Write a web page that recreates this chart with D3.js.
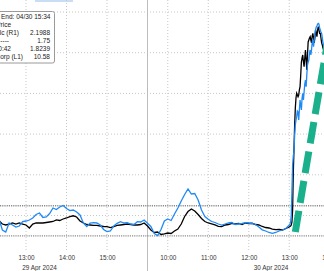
<!DOCTYPE html>
<html>
  <head>
    <meta charset=utf-8>
    <title>Intraday spike</title>
    <style>
      body{ margin:0; background:#fff; }
      svg{ display:block; font-family:"Liberation Sans", Arial, sans-serif; }
      .grid line{ stroke:#c8c8c8; stroke-width:1; stroke-dasharray:1,2; }
      .ref{ stroke:#8c8c8c; stroke-width:1.4; stroke-dasharray:1.2,1; }
      .axis text{ fill:#333; font-size:6.4px; }
      .legend text{ fill:#222; font-size:6.5px; }
    </style>
  </head>
  <body>
    <script src="https://d3js.org/d3.v7.min.js"></script>
    <script>
      var width = 324, height = 271,
          plotBottom = 250;

      // 29 Apr: 12:20 -> 16:00 every 5 min
      var blackDay1 = [1.7872,1.7791,1.7767,1.7791,1.7816,1.7791,1.7816,1.7791,1.7767,1.7693,
                       1.7791,1.7816,1.7816,1.7816,1.7828,1.7840,1.7853,1.7890,1.7877,1.7914,
                       1.7939,1.7971,1.7993,1.7963,1.7865,1.7816,1.7779,1.7767,1.7755,1.7755,
                       1.7742,1.7730,1.7725,1.7705,1.7725,1.7755,1.7767,1.7779,1.7791,1.7779,
                       1.7767,1.7767,1.7779,1.7816,1.7742];
      var blueDay1 = [9.479,9.413,9.401,9.455,9.443,9.431,9.437,9.463,9.467,9.473,
                      9.485,9.506,9.515,9.488,9.491,9.512,9.545,9.536,9.551,9.560,
                      9.542,9.529,9.533,9.521,9.503,9.455,9.434,9.455,9.457,9.455,
                      9.443,9.416,9.403,9.407,9.437,9.453,9.463,9.455,9.457,9.449,
                      9.446,9.463,9.461,9.473,9.453];
      // 30 Apr: 09:30 -> 12:55 every 5 min
      var blackDay2 = [1.7742,1.7644,1.7583,1.7595,1.7533,1.7546,1.7570,1.7558,1.7619,1.7668,
                       1.7791,1.7976,1.8098,1.8160,1.8111,1.8025,1.7926,1.7853,1.7816,1.7796,
                       1.7767,1.7735,1.7725,1.7767,1.7779,1.7804,1.7791,1.7804,1.7779,1.7816,
                       1.7804,1.7809,1.7779,1.7767,1.7730,1.7705,1.7693,1.7668,1.7651,1.7656,
                       1.7644,1.7681];
      var blueDay2 = [9.453,9.434,9.392,9.380,9.416,9.467,9.479,9.470,9.509,9.545,
                      9.587,9.626,9.659,9.629,9.632,9.593,9.533,9.494,9.477,9.464,
                      9.458,9.449,9.443,9.449,9.455,9.458,9.446,9.449,9.452,9.457,
                      9.455,9.452,9.446,9.431,9.414,9.407,9.398,9.393,9.398,9.407,
                      9.413,9.422];
      // 30 Apr: 13:00 -> 13:52 every minute
      var blackSurge = [1.7718,1.7730,1.7742,1.7767,1.7840,1.8135,1.9069,1.9610,2.0224,2.0641,
                        2.0887,2.1003,2.0961,2.0919,2.0961,2.1084,2.1165,2.1452,2.1772,2.1870,
                        2.1944,2.1772,2.1656,2.1870,2.2067,2.1821,2.1575,2.1944,2.2263,2.2312,
                        2.2361,2.2393,2.2312,2.2239,2.2411,2.2477,2.2361,2.2239,2.2361,2.2558,
                        2.2484,2.2393,2.2558,2.2639,2.2558,2.2477,2.2477,2.2361,2.2239,2.2189,
                        2.2116,2.2067,2.2017];
      var blueSurge = [9.443,9.449,9.461,9.503,9.653,9.803,9.857,9.883,9.983,10.043,
                       10.073,10.093,10.127,10.121,10.073,10.133,10.193,10.163,10.133,10.205,
                       10.233,10.193,10.241,10.289,10.313,10.273,10.343,10.403,10.421,10.433,
                       10.475,10.493,10.463,10.493,10.541,10.553,10.513,10.553,10.589,10.613,
                       10.631,10.637,10.649,10.653,10.649,10.625,10.613,10.601,10.593,10.565,
                       10.535,10.523,10.505];

      var tickTimes = ["2024-04-29 13:00","2024-04-29 14:00","2024-04-29 15:00",
                       "2024-04-30 10:00","2024-04-30 11:00","2024-04-30 12:00",
                       "2024-04-30 13:00","2024-04-30 14:00"];
      var dateLabels = [{t:"2024-04-29 13:20", label:"29 Apr 2024"},
                        {t:"2024-04-30 12:33", label:"30 Apr 2024"}];
      var refLevels = [1.8239, 1.75];
      var legendLabels = ["Period End: 04/30 15:34", "Last Price", "Mid Calc  (R1)",
                          "Line ----", "High on 04/30 10:42", "Corp  (L1)"];
      var legendValues = ["", "", "2.1988", "1.75", "1.8239", "10.58"];
      var legendEnds = [50.5, 11, 19, 9, 11, 23];

      var parse = d3.timeParse("%Y-%m-%d %H:%M");

      function times(startStr, n, step){
        var s = parse(startStr);
        return d3.range(n).map(function(i){ return d3.timeMinute.offset(s, i*step); });
      }
      var t1 = times("2024-04-29 12:20", blackDay1.length, 5),
          t2 = times("2024-04-30 09:30", blackDay2.length, 5),
          t3 = times("2024-04-30 13:00", blackSurge.length, 1);
      var allTimes = t1.concat(t2, t3);
      var black = blackDay1.concat(blackDay2, blackSurge).map(function(v, i){ return {t:allTimes[i], v:v}; });
      var blue = blueDay1.concat(blueDay2, blueSurge).map(function(v, i){ return {t:allTimes[i], v:v}; });

      // two sessions with the overnight gap removed
      var x = d3.scaleTime()
        .domain([parse("2024-04-29 12:20"), parse("2024-04-29 16:00"),
                 parse("2024-04-30 09:30"), parse("2024-04-30 15:34")])
        .range([-1, 147.5, 147.5, 393.2]);
      var yR = d3.scaleLinear().domain([1.8, 2.3]).range([215.5, 12]);
      var yL = d3.scaleLinear().domain([9.5, 10.5]).range([215.5, 48.83]);

      var svg = d3.select("body").append("svg")
        .attr("width", width)
        .attr("height", height);

      // light strip at top
      svg.append("rect").attr("x", 35).attr("y", 0).attr("width", 38).attr("height", 2)
        .style("fill", "#c9def5");

      var grid = svg.append("g").attr("class", "grid");
      grid.selectAll("line.h").data(yR.ticks(6).filter(function(d){ return yR(d) < plotBottom; }))
        .enter().append("line")
          .attr("class", "h")
          .attr("x1", 0).attr("x2", width)
          .attr("y1", function(d){ return yR(d); })
          .attr("y2", function(d){ return yR(d); });
      grid.selectAll("line.v").data(tickTimes.map(parse))
        .enter().append("line")
          .attr("class", "v")
          .attr("x1", function(d){ return x(d); })
          .attr("x2", function(d){ return x(d); })
          .attr("y1", 0).attr("y2", plotBottom);

      // day separator
      svg.append("line")
        .attr("x1", x(parse("2024-04-29 16:00"))).attr("x2", x(parse("2024-04-29 16:00")))
        .attr("y1", 0).attr("y2", height)
        .style("stroke", "#bcbcbc").style("stroke-width", 1);

      svg.selectAll("line.ref").data(refLevels).enter().append("line")
        .attr("class", "ref")
        .attr("x1", 0).attr("x2", width)
        .attr("y1", function(d){ return yR(d); })
        .attr("y2", function(d){ return yR(d); });

      var lineR = d3.line().x(function(d){ return x(d.t); }).y(function(d){ return yR(d.v); });
      var lineL = d3.line().x(function(d){ return x(d.t); }).y(function(d){ return yL(d.v); });

      svg.append("path").datum(black)
        .attr("d", lineR)
        .style("fill", "none").style("stroke", "#000").style("stroke-width", 1.3);
      svg.append("path").datum(blue)
        .attr("d", lineL)
        .style("fill", "none").style("stroke", "#1f8af5").style("stroke-width", 1.3);

      // green dashed arrow annotation
      var a0 = {t:parse("2024-04-30 13:09"), v:1.7595},
          ac = {t:parse("2024-04-30 13:30"), v:1.9700},
          a1 = {t:parse("2024-04-30 14:00"), v:2.2560};
      svg.append("path")
        .attr("d", "M" + x(a0.t) + "," + yR(a0.v) +
                   "Q" + x(ac.t) + "," + yR(ac.v) + " " + x(a1.t) + "," + yR(a1.v))
        .style("fill", "none")
        .style("stroke", "#1bb08c")
        .style("stroke-width", 7)
        .style("stroke-dasharray", "22,8");

      // x axis
      var xAxis = d3.axisBottom(x)
        .tickValues(tickTimes.map(parse))
        .tickFormat(d3.timeFormat("%H:%M"))
        .tickSize(0)
        .tickPadding(0);
      var ax = svg.append("g").attr("class", "axis")
        .attr("transform", "translate(0," + 255.5 + ")")
        .call(xAxis);
      ax.select(".domain").remove();

      svg.append("g").attr("class", "axis").selectAll("text").data(dateLabels).enter()
        .append("text")
          .attr("x", function(d){ return x(parse(d.t)); })
          .attr("y", 270.3)
          .attr("text-anchor", "middle")
          .text(function(d){ return d.label; });

      // legend box (clipped on the left)
      var lg = svg.append("g").attr("class", "legend");
      lg.append("rect")
        .attr("x", -80).attr("y", 11.5).attr("width", 134.5).attr("height", 51.5)
        .attr("rx", 2)
        .style("fill", "#fff").style("stroke", "#9a9a9a").style("stroke-width", 1);
      legendLabels.forEach(function(label, i){
        var yy = 18.6 + i * 8;
        lg.append("text").attr("x", legendEnds[i]).attr("y", yy)
          .attr("text-anchor", "end").text(label);
        if (legendValues[i]) {
          lg.append("text").attr("x", 50).attr("y", yy).attr("text-anchor", "end").text(legendValues[i]);
        }
      });
    </script>
  </body>
</html>
